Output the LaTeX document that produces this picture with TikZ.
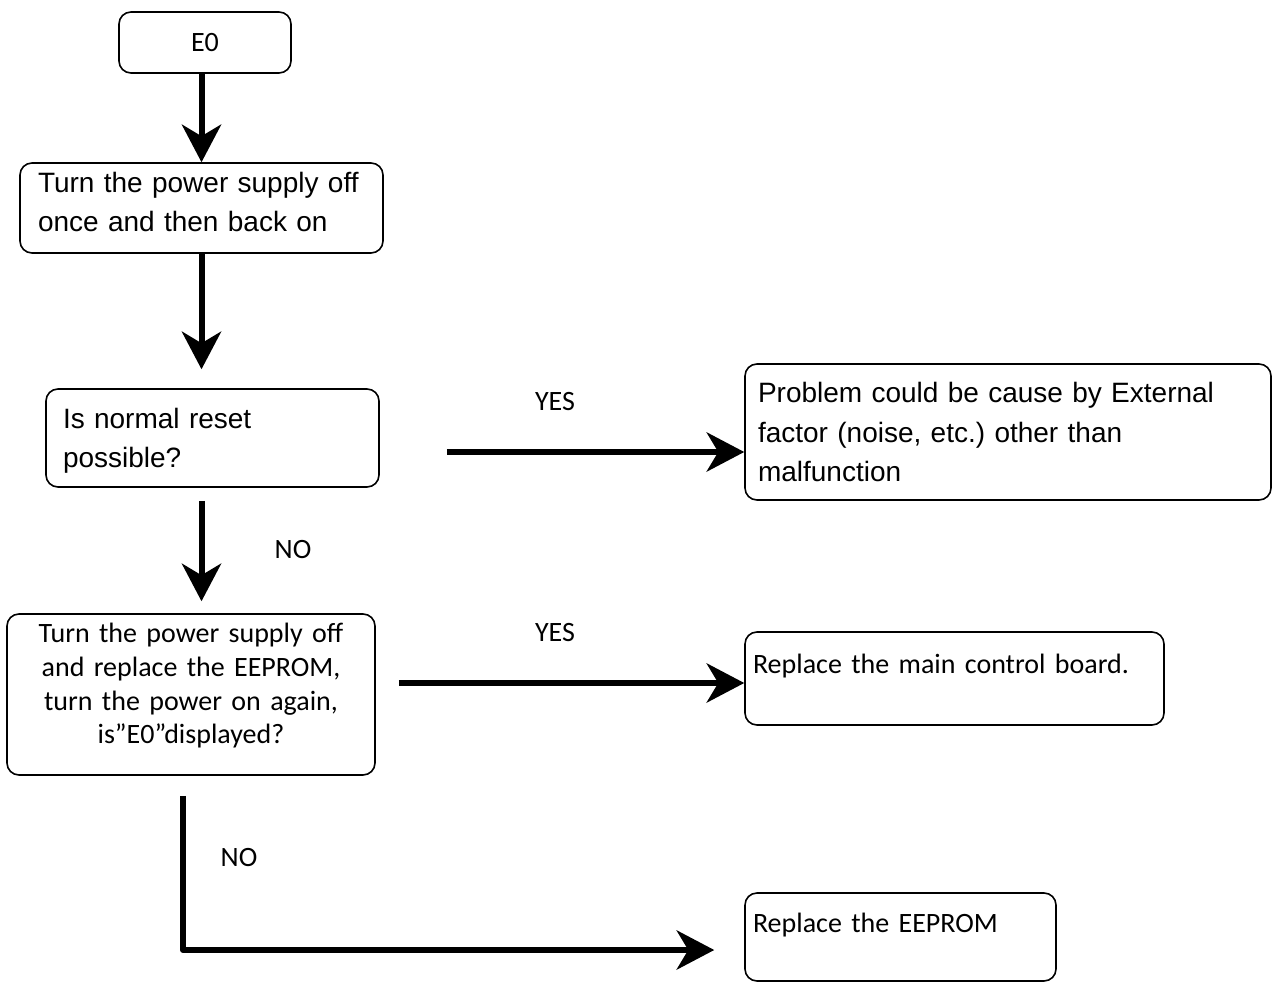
\documentclass[tikz,border=0pt]{standalone}
\usepackage{fontspec}
\setmainfont{Carlito}
\newfontfamily\arialfont{Liberation Sans}
\usepackage{tikz}
\usetikzlibrary{positioning,calc,arrows.meta}

% extra depth under the last line, lifts the text inside its box
\newcommand{\liftby}[1]{\rule[-#1]{0pt}{#1}}
% tighter word spaces for the box texts
\newcommand{\arialbox}{\arialfont\fontsize{14}{19.8}\selectfont\spaceskip=0.24em\relax}
\newcommand{\calibribox}{\fontsize{14}{16.8}\selectfont\spaceskip=0.14em\relax}

\begin{document}
\frenchspacing
\begin{tikzpicture}[
		x=0.5pt, y=-0.5pt,
		box/.style={
			draw=black, line width=0.8pt, rounded corners=6pt,
			inner ysep=2pt, anchor=center
		},
		arial_text/.style={
			font=\arialbox, align=left
		},
		calibri_text/.style={
			font=\calibribox
		},
		flow/.style={
			-{Stealth[length=19pt, width=20pt, inset=6pt, line width=0pt]},
			line width=3pt
		},
		yn_label/.style={
			font=\fontsize{14}{16}\selectfont
		}
	]
	\useasboundingbox (0,0) rectangle (1272,983);
	
	% === Cot trai: cac buoc kiem tra ===
	\node[box, calibri_text, minimum width=86pt, minimum height=30.5pt] (e0) at (205,42.5) {E0};
	
	\node[box, arial_text, text width=163.5pt, inner xsep=9pt, minimum height=45pt] (power_off) at (201.5,208)
		{Turn the power supply off\\once and then back on\liftby{6pt}};
	
	\node[box, arial_text, text width=149.5pt, inner xsep=8.5pt, minimum height=49pt] (reset_ok) at (212.5,438)
		{\rule{0pt}{13pt}Is normal reset\\possible?};
	
	\node[box, calibri_text, align=center, text width=170pt, inner xsep=7pt, minimum height=80.5pt] (swap_eeprom) at (191,694.5)
		{Turn the power supply off\\and replace the EEPROM,\\turn the power on again,\\is"E0"displayed?\liftby{11pt}};
	
	% === Cot phai: ket luan ===
	\node[box, arial_text, text width=250pt, inner xsep=6.5pt, minimum height=68pt] (external) at (1008,432)
		{Problem could be cause by External\\factor (noise, etc.) other than\\malfunction};
	
	\node[box, calibri_text, align=left, text width=201.5pt, inner xsep=4pt, minimum height=46.5pt,
		text height=10pt, text depth=15.5pt] (main_board) at (954.5,678.5)
		{Replace the main control board.};
	
	\node[box, calibri_text, align=left, text width=147.5pt, inner xsep=4pt, minimum height=44pt,
		text height=10pt, text depth=14.5pt] (new_eeprom) at (900.5,937)
		{Replace the EEPROM};
	
	% === Mui ten doc ===
	\draw[flow] (power_off.north |- e0.south) -- (power_off.north);
	\draw[flow, shorten >=9.5pt] (power_off.south) -- (power_off.south |- reset_ok.north);
	\draw[flow, shorten <=6.5pt, shorten >=6pt] (power_off.south |- reset_ok.south) -- (power_off.south |- swap_eeprom.north);
	
	% === Nhanh YES ===
	\draw[flow, shorten <=33.5pt] ([yshift=-7pt]reset_ok.east) -- ([yshift=-10pt]external.west);
	\draw[flow, shorten <=11.5pt] ([yshift=5.75pt]swap_eeprom.east) -- ([yshift=-2.25pt]main_board.west);
	
	% === Nhanh NO cuoi cung ===
	\draw[flow, line join=round, shorten <=10pt, shorten >=15pt]
		([xshift=-4pt]swap_eeprom.south) |- ([yshift=-6.5pt]new_eeprom.west);
	
	% Nhan YES / NO
	\node[yn_label] (yes1) at (555,402) {YES};
	\node[yn_label] (yes2) at (555,633) {YES};
	\node[yn_label] (no1) at (293,550) {NO};
	\node[yn_label] (no2) at (239,858) {NO};
	
\end{tikzpicture}
\end{document}
